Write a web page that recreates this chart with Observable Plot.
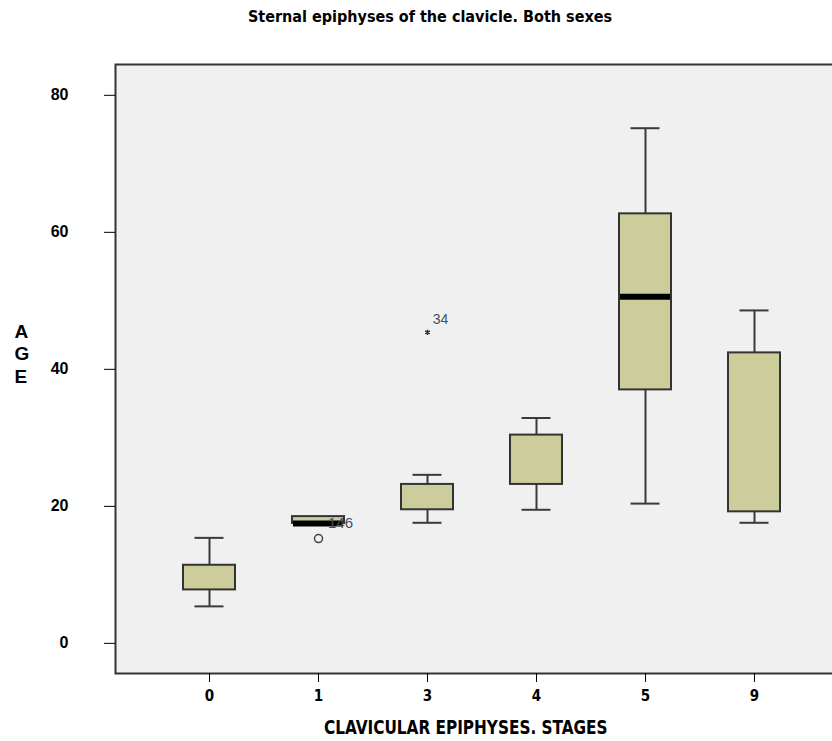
<!DOCTYPE html>
<html>
<head>
<meta charset="utf-8">
<script src="https://cdn.jsdelivr.net/npm/d3@7"></script>
<script src="https://cdn.jsdelivr.net/npm/@observablehq/plot@0.6"></script>
<style>
html, body { margin: 0; padding: 0; background: #fff; overflow: hidden; }
#wrap { position: relative; width: 832px; height: 741px; overflow: hidden; }
#title { position: absolute; top: 8px; left: 0; width: 860px; text-align: center;
  font-family: "Liberation Sans Narrow", "DejaVu Sans Condensed", "Arial Narrow", sans-serif;
  font-weight: bold; font-size: 16px; line-height: 18px; color: #000; }
#chart { position: absolute; top: 0; left: 0; width: 860px; }
#chart svg { max-width: none !important; width: 860px !important; height: 741px !important; }
#xlabel { position: absolute; top: 715px; left: 0; width: 932px; text-align: center;
  font-family: "Liberation Sans Narrow", "DejaVu Sans Condensed", "Arial Narrow", sans-serif;
  font-weight: bold; font-size: 20px; line-height: 24px; color: #000; }
#xlabel span { display: inline-block; transform: scaleX(0.85); transform-origin: center; }
</style>
</head>
<body>
<div id="wrap">
  <div id="chart"></div>
  <div id="title">Sternal epiphyses of the clavicle. Both sexes</div>
  <div id="xlabel"><span>CLAVICULAR EPIPHYSES. STAGES</span></div>
</div>
<script>
// Categories (stages of the sternal clavicular epiphysis)
const stages = ["0", "1", "3", "4", "5", "9"];
// Box-plot statistics (age, years)
const lowWhisker  = [5.4, 17.5, 17.6, 19.5, 20.4, 17.6];
const q1          = [7.8, 17.5, 19.5, 23.2, 37.0, 19.2];
const medians     = [null, 17.5, null, null, 50.6, null];
const q3          = [11.4, 18.5, 23.2, 30.4, 62.7, 42.4];
const highWhisker = [15.4, 18.5, 24.6, 32.9, 75.2, 48.6];
// Outliers (circle) and extremes (asterisk)
const outlierStage = ["1"];
const outlierAge = [15.3];
const extremeStage = ["3"];
const extremeAge = [45.4];
const extremeLabel = ["34"];
const caseLabelStage = ["1"];
const caseLabelAge = [17.5];
const caseLabelText = ["146"];
// Axis ticks
const yTicks = [0, 20, 40, 60, 80];

const boxes = stages.map((s, i) => ({
  stage: s, low: lowWhisker[i], q1: q1[i], median: medians[i], q3: q3[i], high: highWhisker[i]
}));
const upper = boxes.filter(d => d.high > d.q3);
const lower = boxes.filter(d => d.low < d.q1);
const meds = boxes.filter(d => d.median != null);
const outliers = outlierStage.map((s, i) => ({stage: s, age: outlierAge[i]}));
const extremes = extremeStage.map((s, i) => ({stage: s, age: extremeAge[i], label: extremeLabel[i]}));
const caseLabels = caseLabelStage.map((s, i) => ({stage: s, age: caseLabelAge[i], label: caseLabelText[i]}));

const boxFill = "#cdcd9b";
const lineCol = "#3a3a3a";
const narrow = "'Liberation Sans Narrow', 'DejaVu Sans Condensed', 'Arial Narrow', sans-serif";

const chart = Plot.plot({
  width: 860,
  height: 741,
  marginTop: 64,
  marginBottom: 68,
  marginLeft: 115,
  marginRight: 13,
  style: { background: "transparent", overflow: "visible", maxWidth: "none" },
  x: { type: "band", domain: stages, paddingInner: 0.525, paddingOuter: 0.605, align: 0.5, axis: null },
  y: { domain: [-4.4, 84.5], axis: null },
  marks: [
    Plot.frame({ fill: "#f0f0f0" }),
    Plot.ruleX(upper, { x: "stage", y1: "q3", y2: "high", stroke: lineCol, strokeWidth: 2 }),
    Plot.ruleX(lower, { x: "stage", y1: "low", y2: "q1", stroke: lineCol, strokeWidth: 2 }),
    Plot.tickY(upper, { x: "stage", y: "high", insetLeft: 11.5, insetRight: 11.5, stroke: lineCol, strokeWidth: 2 }),
    Plot.tickY(lower, { x: "stage", y: "low", insetLeft: 11.5, insetRight: 11.5, stroke: lineCol, strokeWidth: 2 }),
    Plot.barY(boxes, { x: "stage", y1: "q1", y2: "q3", fill: boxFill, stroke: "#333", strokeWidth: 2 }),
    Plot.tickY(meds, { x: "stage", y: "median", insetLeft: 1, insetRight: 1, stroke: "#000", strokeWidth: 6 }),
    Plot.dot(outliers, { x: "stage", y: "age", r: 4, stroke: "#444", strokeWidth: 1.5, fill: "none" }),
    Plot.dot(extremes, { x: "stage", y: "age", r: 2.5, symbol: "asterisk", stroke: "#333", strokeWidth: 1.5 }),
    Plot.text(extremes, { x: "stage", y: "age", text: "label", dx: 13, dy: -13, fontSize: 14, fill: "#4a4d5c",
      fontFamily: "'Liberation Sans', Arial, sans-serif" }),
    Plot.text(caseLabels, { x: "stage", y: "age", text: "label", dx: 22, dy: 0, fontSize: 15, fill: "#4a4d5c",
      fontFamily: "'Liberation Sans', Arial, sans-serif" }),
    Plot.frame({ stroke: "#333", strokeWidth: 2 }),
    Plot.axisY({ ticks: yTicks, tickSize: 11, tickPadding: 36, label: null, fontSize: 16,
      fontWeight: "bold", fontFamily: "'Liberation Sans', Arial, sans-serif", color: "#000" }),
    Plot.axisX({ tickSize: 9, tickPadding: 8, label: null, fontSize: 15, fontWeight: "bold",
      fontFamily: narrow, color: "#000" }),
    Plot.text(["A\nG\nE"], { frameAnchor: "left", dx: -101, dy: -16, lineHeight: 1.2, fontSize: 19,
      fontWeight: "bold", fontFamily: "'Liberation Sans', Arial, sans-serif", fill: "#000" })
  ]
});
document.getElementById("chart").appendChild(chart);
</script>
</body>
</html>
